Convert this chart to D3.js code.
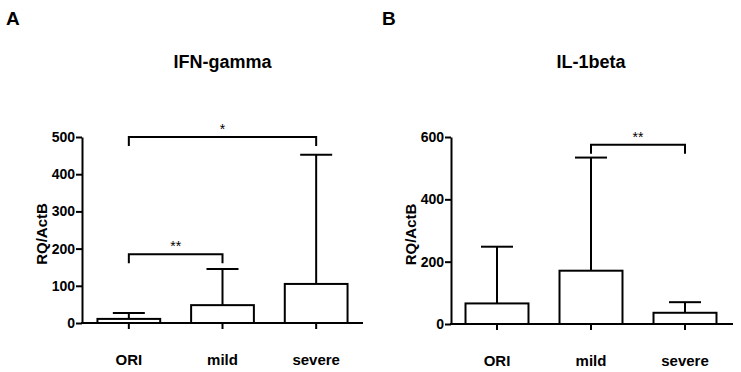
<!DOCTYPE html>
<html>
<head>
<meta charset="utf-8">
<script src="https://cdn.jsdelivr.net/npm/d3@7"></script>
<style>
  body { margin: 0; background: #fff; }
  svg { font-family: "Liberation Sans", Arial, sans-serif; font-weight: bold; }
</style>
</head>
<body>
<div id="chart"></div>
<script>
// groups on the x axis
const groups = ["ORI", "mild", "severe"];

// IFN-gamma: mean and upper error
const ifnMean = [11, 48, 105];
const ifnErr = [27, 145, 452];
const ifnTicks = [0, 100, 200, 300, 400, 500];

// IL-1beta: mean and upper error
const ilMean = [66, 171, 36];
const ilErr = [248, 534, 70];
const ilTicks = [0, 200, 400, 600];

// significance brackets [from, to, label, level]
const ifnSig = [["ORI", "severe", "*", 500], ["ORI", "mild", "**", 185]];
const ilSig = [["mild", "severe", "**", 575]];

const svg = d3.select("#chart").append("svg")
    .attr("width", 741)
    .attr("height", 372);

function styleText(sel, size) {
    sel.attr("font-size", size)
        .attr("font-weight", "bold")
        .attr("font-family", "Liberation Sans, Arial, sans-serif")
        .attr("fill", "#000");
}

function drawPanel(opt) {
    let g = svg.append("g");

    let y = d3.scaleLinear()
        .domain([0, opt.max])
        .range([opt.y0, opt.yTop]);

    let x = d3.scaleBand()
        .domain(groups)
        .range(opt.xRange)
        .paddingInner(0.33)
        .paddingOuter(0.165);

    // y axis
    let yAxis = g.append("g")
        .attr("transform", "translate(" + opt.axisX + ",0)")
        .call(d3.axisLeft(y).tickValues(opt.ticks).tickSize(6).tickPadding(1).tickSizeOuter(0));
    yAxis.select(".domain").attr("stroke-width", 2);
    yAxis.selectAll(".tick line").attr("stroke-width", 2);
    styleText(yAxis.selectAll(".tick text"), 14);

    // x axis
    let xAxis = g.append("g")
        .attr("transform", "translate(0," + opt.y0 + ")")
        .call(d3.axisBottom(x).tickSize(6).tickSizeOuter(0).tickPadding(25));
    xAxis.select(".domain")
        .attr("d", "M" + (opt.axisX - 1) + ",0H" + opt.xEnd)
        .attr("stroke-width", 2);
    xAxis.selectAll(".tick line").attr("stroke-width", 2);
    styleText(xAxis.selectAll(".tick text"), 15);

    let data = groups.map((k, i) => ({key: k, mean: opt.mean[i], err: opt.err[i]}));

    // error bars
    g.selectAll(".err")
        .data(data)
        .enter().append("line")
        .attr("x1", d => x(d.key) + x.bandwidth() / 2)
        .attr("x2", d => x(d.key) + x.bandwidth() / 2)
        .attr("y1", d => y(d.mean))
        .attr("y2", d => y(d.err))
        .attr("stroke", "#000")
        .attr("stroke-width", 2);
    g.selectAll(".cap")
        .data(data)
        .enter().append("line")
        .attr("x1", d => x(d.key) + x.bandwidth() / 2 - 16)
        .attr("x2", d => x(d.key) + x.bandwidth() / 2 + 16)
        .attr("y1", d => y(d.err))
        .attr("y2", d => y(d.err))
        .attr("stroke", "#000")
        .attr("stroke-width", 2);

    // bars
    g.selectAll(".bar")
        .data(data)
        .enter().append("rect")
        .attr("x", d => x(d.key))
        .attr("y", d => y(d.mean))
        .attr("width", x.bandwidth())
        .attr("height", d => opt.y0 - y(d.mean))
        .attr("fill", "#fff")
        .attr("stroke", "#000")
        .attr("stroke-width", 2);

    // significance brackets
    opt.sig.forEach(s => {
        let xa = x(s[0]) + x.bandwidth() / 2;
        let xb = x(s[1]) + x.bandwidth() / 2;
        let yy = y(s[3]);
        g.append("path")
            .attr("d", "M" + xa + "," + (yy + 9) + "V" + yy + "H" + xb + "V" + (yy + 9))
            .attr("fill", "none")
            .attr("stroke", "#000")
            .attr("stroke-width", 2);
        g.append("text")
            .attr("x", (xa + xb) / 2)
            .attr("y", yy - 3)
            .attr("text-anchor", "middle")
            .attr("font-size", 14)
            .attr("font-weight", "normal")
            .text(s[2]);
    });

    // title
    g.append("text")
        .attr("x", (x("ORI") + x("severe") + x.bandwidth()) / 2)
        .attr("y", 68)
        .attr("text-anchor", "middle")
        .attr("font-size", 18)
        .text(opt.title);

    // panel letter
    g.append("text")
        .attr("x", opt.letterX)
        .attr("y", 25)
        .attr("font-size", 19)
        .text(opt.letter);

    // y label
    g.append("text")
        .attr("transform", "translate(" + (opt.axisX - 35) + "," + ((opt.y0 + opt.yTop) / 2 + 4) + ") rotate(-90)")
        .attr("text-anchor", "middle")
        .attr("font-size", 15)
        .text("RQ/ActB");
}

drawPanel({
    mean: ifnMean, err: ifnErr, ticks: ifnTicks, max: 500,
    y0: 323, yTop: 137, axisX: 82, xRange: [82, 363], xEnd: 363,
    sig: ifnSig, title: "IFN-gamma", letter: "A", letterX: 6
});

drawPanel({
    mean: ilMean, err: ilErr, ticks: ilTicks, max: 600,
    y0: 324, yTop: 137, axisX: 451, xRange: [450, 732], xEnd: 733,
    sig: ilSig, title: "IL-1beta", letter: "B", letterX: 382
});
</script>
</body>
</html>
